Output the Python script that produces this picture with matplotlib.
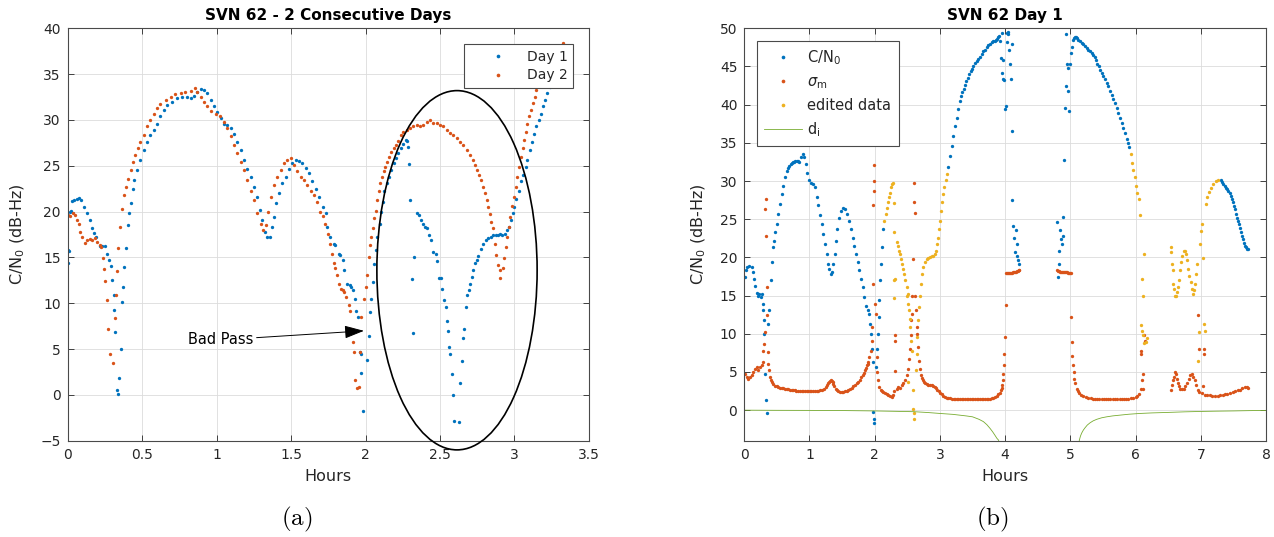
import numpy as np
import matplotlib
matplotlib.use('Agg')
import matplotlib.pyplot as plt
from matplotlib.patches import Ellipse

# ---- panel (a): SVN 62, two consecutive days ----
day1_hours = [0.000, 0.002, 0.010, 0.015, 0.025, 0.030, 0.045, 0.060, 0.075, 0.090, 0.108, 0.130, 0.148, 0.164, 0.175,
              0.190, 0.215, 0.230, 0.249, 0.265, 0.280, 0.293, 0.298, 0.309, 0.314, 0.320, 0.332, 0.338, 0.347, 0.356,
              0.363, 0.370, 0.379, 0.392, 0.406, 0.415, 0.426, 0.437, 0.448, 0.466, 0.489, 0.511, 0.534, 0.556, 0.578,
              0.601, 0.623, 0.646, 0.668, 0.702, 0.735, 0.769, 0.803, 0.825, 0.848, 0.870, 0.892, 0.915, 0.937, 0.960,
              0.982, 1.004, 1.027, 1.049, 1.072, 1.094, 1.117, 1.139, 1.161, 1.184, 1.206, 1.229, 1.251, 1.273, 1.289,
              1.307, 1.323, 1.341, 1.357, 1.370, 1.386, 1.401, 1.419, 1.442, 1.464, 1.486, 1.509, 1.531, 1.554, 1.576,
              1.598, 1.621, 1.643, 1.666, 1.688, 1.711, 1.733, 1.741, 1.763, 1.786, 1.797, 1.819, 1.830, 1.848, 1.857,
              1.875, 1.893, 1.904, 1.913, 1.931, 1.938, 1.949, 1.964, 1.969, 1.971, 1.980, 2.011, 2.020, 2.031, 2.038,
              2.047, 2.058, 2.067, 2.080, 2.094, 2.105, 2.114, 2.127, 2.143, 2.158, 2.172, 2.188, 2.203, 2.221, 2.237,
              2.254, 2.270, 2.281, 2.288, 2.295, 2.301, 2.313, 2.321, 2.328, 2.344, 2.359, 2.373, 2.388, 2.402, 2.415,
              2.426, 2.440, 2.455, 2.471, 2.480, 2.493, 2.504, 2.516, 2.527, 2.538, 2.545, 2.554, 2.563, 2.567, 2.580,
              2.589, 2.596, 2.627, 2.636, 2.647, 2.656, 2.663, 2.674, 2.683, 2.694, 2.701, 2.714, 2.723, 2.734, 2.746,
              2.757, 2.772, 2.790, 2.806, 2.824, 2.839, 2.857, 2.873, 2.891, 2.902, 2.917, 2.935, 2.951, 2.964, 2.975,
              2.987, 2.998, 3.013, 3.027, 3.042, 3.058, 3.074, 3.087, 3.103, 3.118, 3.132, 3.147, 3.163, 3.176, 3.192,
              3.208, 3.221, 3.237, 3.252, 3.270, 3.290]
day1_cn0 = [14.4, 15.8, 15.7, 20.0, 20.1, 21.2, 21.3, 21.4, 21.5, 21.3, 20.5, 19.8, 19.1, 18.2, 17.7,
            17.2, 16.2, 16.2, 16.3, 15.4, 14.7, 14.1, 12.5, 10.9, 9.3, 6.9, 0.5, 0.1, 1.8, 5.0,
            10.1, 11.8, 14.0, 16.0, 18.5, 19.9, 20.9, 22.5, 23.4, 24.5, 25.6, 26.7, 27.6, 28.4, 28.9,
            29.6, 30.4, 31.1, 31.6, 32.0, 32.4, 32.5, 32.55, 32.4, 32.6, 33.0, 33.35, 33.3, 32.9, 32.2,
            31.5, 30.9, 30.2, 29.6, 29.45, 29.1, 28.5, 27.6, 26.7, 25.6, 24.7, 23.8, 22.7, 21.6, 20.2,
            19.1, 17.8, 17.2, 17.2, 18.3, 19.4, 20.9, 22.0, 23.1, 23.8, 24.7, 25.3, 25.6, 25.55, 25.3,
            24.8, 24.2, 23.3, 22.5, 21.6, 20.5, 19.8, 18.3, 17.25, 16.5, 16.4, 15.4, 15.3, 14.7, 13.6,
            12.1, 12.0, 11.8, 11.4, 10.5, 9.2, 8.5, 4.7, 4.5, 2.4, -1.8, 3.8, 6.4, 9.0, 10.5,
            12.3, 14.3, 15.8, 17.2, 18.7, 20.0, 21.1, 22.2, 23.1, 23.8, 24.5, 25.3, 25.8, 26.4, 26.9,
            27.4, 27.8, 27.7, 27.1, 25.2, 21.3, 12.6, 6.8, 15.0, 19.9, 19.6, 19.1, 18.7, 18.3, 18.2,
            17.4, 16.9, 15.6, 15.4, 14.6, 12.8, 12.8, 11.6, 10.4, 9.6, 8.1, 7.0, 5.2, 4.5, 2.3,
            0.0, -2.8, -3.0, 1.3, 3.65, 6.2, 7.2, 9.6, 10.9, 11.4, 12.1, 12.9, 13.6, 14.4, 14.7,
            15.2, 15.9, 16.5, 16.9, 17.1, 17.25, 17.4, 17.4, 17.4, 17.6, 17.5, 17.6, 18.0, 18.3, 19.1,
            19.8, 20.5, 21.4, 22.2, 23.3, 24.0, 24.9, 25.6, 26.7, 27.6, 28.5, 29.3, 30.0, 30.7, 31.5,
            32.2, 32.9, 33.6, 34.4, 35.0, 35.7]

day2_hours = [0.000, 0.018, 0.036, 0.052, 0.063, 0.074, 0.085, 0.099, 0.114, 0.130, 0.148, 0.164, 0.182, 0.197, 0.215,
              0.224, 0.235, 0.247, 0.253, 0.262, 0.271, 0.283, 0.303, 0.316, 0.325, 0.332, 0.341, 0.354, 0.365, 0.377,
              0.392, 0.406, 0.422, 0.437, 0.455, 0.471, 0.489, 0.511, 0.534, 0.556, 0.578, 0.601, 0.623, 0.657, 0.691,
              0.724, 0.758, 0.791, 0.825, 0.854, 0.870, 0.892, 0.915, 0.937, 0.960, 0.993, 1.022, 1.049, 1.072, 1.094,
              1.117, 1.139, 1.161, 1.184, 1.206, 1.229, 1.251, 1.274, 1.296, 1.312, 1.330, 1.345, 1.368, 1.386, 1.408,
              1.430, 1.453, 1.475, 1.498, 1.520, 1.543, 1.565, 1.587, 1.610, 1.632, 1.655, 1.677, 1.696, 1.713, 1.730,
              1.746, 1.759, 1.775, 1.786, 1.797, 1.808, 1.819, 1.835, 1.846, 1.857, 1.871, 1.886, 1.897, 1.902, 1.913,
              1.920, 1.931, 1.942, 1.958, 1.964, 1.971, 1.987, 2.002, 2.009, 2.020, 2.031, 2.038, 2.047, 2.058, 2.067,
              2.076, 2.087, 2.098, 2.109, 2.121, 2.132, 2.143, 2.158, 2.172, 2.188, 2.203, 2.221, 2.237, 2.254, 2.277,
              2.299, 2.321, 2.344, 2.366, 2.388, 2.411, 2.433, 2.455, 2.478, 2.500, 2.522, 2.545, 2.567, 2.589, 2.612,
              2.634, 2.656, 2.679, 2.701, 2.719, 2.734, 2.750, 2.763, 2.775, 2.790, 2.801, 2.813, 2.824, 2.835, 2.842,
              2.853, 2.868, 2.879, 2.891, 2.902, 2.906, 2.920, 2.929, 2.940, 2.951, 2.962, 2.973, 2.984, 2.996, 3.007,
              3.018, 3.031, 3.042, 3.054, 3.065, 3.076, 3.087, 3.098, 3.109, 3.125, 3.136, 3.147, 3.163, 3.180, 3.200,
              3.220, 3.240, 3.260, 3.280, 3.300, 3.324]
day2_cn0 = [19.6, 19.5, 19.9, 19.6, 19.1, 18.6, 17.8, 17.2, 16.6, 16.9, 17.0, 16.9, 17.1, 16.7, 16.4,
            16.1, 14.9, 13.7, 12.4, 10.4, 7.2, 4.5, 3.5, 8.4, 10.9, 13.5, 16.0, 18.3, 20.3, 21.8,
            22.7, 23.6, 24.5, 25.4, 26.2, 26.9, 27.6, 28.4, 29.3, 30.0, 30.7, 31.3, 31.7, 32.2, 32.55,
            32.85, 32.9, 33.0, 33.2, 33.5, 33.1, 32.55, 32.0, 31.5, 31.0, 30.7, 30.4, 29.8, 29.1, 28.2,
            27.3, 26.4, 25.4, 24.5, 23.4, 22.3, 21.25, 19.8, 18.7, 18.0, 18.5, 20.0, 21.6, 22.9, 23.8,
            24.5, 25.3, 25.6, 25.9, 25.1, 24.4, 23.8, 23.4, 22.9, 22.3, 21.8, 21.1, 20.0, 19.5, 18.7,
            17.6, 16.5, 15.4, 14.4, 13.8, 13.1, 12.1, 11.6, 11.4, 11.2, 10.7, 9.8, 9.2, 7.2, 5.8,
            4.7, 1.6, 0.8, 0.9, 4.7, 8.5, 10.5, 11.8, 13.1, 15.1, 16.4, 17.25, 18.2, 19.25, 20.1,
            21.25, 22.2, 23.1, 23.8, 24.4, 24.9, 25.4, 26.0, 26.5, 26.9, 27.3, 27.7, 28.4, 28.65, 28.9,
            29.1, 29.35, 29.45, 29.3, 29.45, 29.8, 30.0, 29.7, 29.7, 29.45, 29.3, 28.9, 28.6, 28.35, 28.0,
            27.6, 27.3, 26.7, 26.2, 25.6, 25.1, 24.5, 24.0, 23.4, 22.7, 22.0, 21.25, 20.5, 19.7, 18.9,
            18.2, 16.5, 15.25, 14.15, 13.6, 12.8, 13.8, 14.9, 16.1, 17.25, 18.3, 19.4, 20.6, 21.6, 22.7,
            23.8, 24.9, 26.0, 26.9, 27.8, 28.7, 29.6, 30.4, 31.1, 31.8, 32.55, 33.3, 34.0, 34.7, 35.5,
            36.2, 36.8, 37.3, 37.7, 38.0, 38.4]

# circled region and "Bad Pass" note
bad_pass_center = (2.614, 13.6)
bad_pass_size = (1.076, 39.2)
bad_pass_tip = (1.989, 6.99)
bad_pass_text = (1.25, 6.0)

# ---- panel (b): SVN 62 day 1 ----
cn0_hours = [0.011, 0.021, 0.047, 0.077, 0.113, 0.128, 0.149, 0.164, 0.190, 0.215, 0.230, 0.251, 0.266, 0.282, 0.292,
             0.302, 0.307, 0.323, 0.338, 0.343, 0.369, 0.384, 0.404, 0.420, 0.435, 0.450, 0.471, 0.496, 0.522, 0.548,
             0.573, 0.599, 0.624, 0.650, 0.670, 0.691, 0.710, 0.727, 0.745, 0.762, 0.783, 0.803, 0.825, 0.844, 0.870,
             0.895, 0.916, 0.941, 0.967, 0.992, 1.023, 1.059, 1.084, 1.110, 1.135, 1.161, 1.187, 1.212, 1.238, 1.263,
             1.279, 1.304, 1.330, 1.350, 1.365, 1.386, 1.406, 1.427, 1.452, 1.483, 1.519, 1.550, 1.580, 1.611, 1.637,
             1.662, 1.688, 1.713, 1.739, 1.764, 1.790, 1.815, 1.841, 1.867, 1.892, 1.912, 1.928, 1.943, 1.958, 1.969,
             1.979, 1.989, 1.994, 2.015, 2.030, 2.045, 2.061, 2.071, 2.086, 2.102, 2.117, 2.132,
             3.130, 3.155, 3.181, 3.206, 3.232, 3.257, 3.283, 3.308, 3.326, 3.344, 3.365, 3.385, 3.405, 3.426, 3.450,
             3.472, 3.492, 3.513, 3.540, 3.564, 3.590, 3.615, 3.640, 3.667, 3.690, 3.717, 3.745, 3.769, 3.795, 3.820,
             3.840, 3.861, 3.880, 3.897, 3.912, 3.922, 3.932, 3.947, 3.948, 3.963, 3.973, 3.983, 3.999, 4.009, 4.024,
             4.035, 4.039, 4.050, 4.065, 4.075, 4.085, 4.101, 4.106, 4.111, 4.126, 4.137, 4.152, 4.167, 4.177, 4.187,
             4.203, 4.213,
             4.801, 4.816, 4.826, 4.831, 4.842, 4.857, 4.867, 4.882, 4.893, 4.903, 4.918, 4.928, 4.934, 4.944, 4.959,
             4.970, 4.980, 4.995, 5.006, 5.021, 5.036, 5.057, 5.072, 5.088, 5.105, 5.123, 5.150, 5.174, 5.200, 5.226,
             5.250, 5.277, 5.300, 5.328, 5.355, 5.379, 5.398, 5.415, 5.435, 5.456, 5.480, 5.507, 5.530, 5.558, 5.585,
             5.610, 5.635, 5.661, 5.686, 5.711, 5.737, 5.763, 5.790, 5.814, 5.840, 5.865, 5.886, 5.906,
             7.306, 7.327, 7.347, 7.368, 7.388, 7.406, 7.424, 7.442, 7.460, 7.475, 7.490, 7.508, 7.526, 7.544, 7.562,
             7.578, 7.593, 7.608, 7.623, 7.639, 7.654, 7.670, 7.685, 7.700, 7.716, 7.731]
cn0_values = [17.4, 18.3, 18.7, 18.9, 18.7, 18.1, 17.2, 16.3, 15.4, 15.0, 15.2, 14.8, 15.2, 13.9, 13.05,
              11.75, 10.0, 4.8, 1.3, -0.4, 11.3, 13.05, 17.0, 19.4, 21.3, 22.2, 23.3, 24.4, 25.7, 27.0,
              28.3, 29.4, 30.5, 31.3, 31.7, 32.0, 32.2, 32.3, 32.45, 32.55, 32.6, 32.6, 32.6, 32.55, 33.1,
              33.5, 33.1, 32.2, 31.1, 30.2, 29.8, 29.6, 29.2, 27.85, 26.8, 25.5, 24.4, 23.1, 21.8, 20.45,
              19.15, 18.5, 17.85, 18.1, 19.15, 20.45, 22.2, 23.7, 25.2, 26.1, 26.5, 26.3, 25.7, 24.8, 23.7,
              22.6, 21.5, 20.45, 19.4, 18.3, 17.2, 16.1, 14.8, 13.7, 13.05, 12.6, 11.3, 10.0, 8.05, 6.3,
              -0.2, -1.1, -1.7, 5.65, 8.05, 10.0, 12.2, 14.4, 17.0, 19.15, 21.3, 23.7,
              31.8, 33.3, 34.6, 35.9, 37.2, 38.3, 39.4, 40.5, 41.1, 41.6, 42.1, 42.6, 43.1, 43.5, 44.0,
              44.4, 44.7, 45.0, 45.4, 45.7, 46.0, 46.3, 46.7, 47.0, 47.2, 47.5, 47.8, 48.0, 48.15, 48.3,
              48.4, 48.5, 48.65, 48.8, 49.0, 48.3, 46.1, 44.2, 49.4, 45.9, 43.3, 43.2, 39.4, 39.8, 49.4,
              48.2, 49.2, 49.5, 47.1, 45.3, 43.4, 48.0, 36.6, 27.5, 24.15, 22.5, 20.7, 23.6, 21.8, 20.2,
              19.6, 19.15,
              24.6, 17.5, 20.9, 19.15, 23.6, 22.4, 21.7, 22.8, 25.3, 32.7, 39.5, 49.3, 42.4, 45.3, 44.8,
              41.8, 39.2, 45.3, 46.8, 47.6, 48.5, 48.7, 48.8, 48.8, 48.7, 48.5, 48.3, 48.1, 47.9, 47.65,
              47.4, 47.2, 47.0, 46.8, 46.55, 46.3, 45.8, 45.3, 45.0, 44.6, 44.2, 43.7, 43.3, 42.9, 42.4,
              41.8, 41.3, 40.7, 40.2, 39.6, 38.95, 38.3, 37.6, 37.0, 36.3, 35.5, 35.0, 34.5,
              30.1, 29.85, 29.6, 29.4, 29.15, 28.9, 28.7, 28.4, 28.1, 27.65, 27.2, 26.75, 26.3, 25.75, 25.2,
              24.8, 24.4, 23.85, 23.3, 22.85, 22.4, 21.95, 21.5, 21.3, 21.1, 21.1]

sigma_hours = [0.011, 0.036, 0.062, 0.087, 0.113, 0.139, 0.164, 0.190, 0.215, 0.241, 0.266, 0.282, 0.292, 0.302, 0.312,
               0.323, 0.328, 0.333, 0.343, 0.348, 0.359, 0.369, 0.379, 0.394, 0.407, 0.420, 0.445, 0.470, 0.496, 0.522,
               0.548, 0.575, 0.600, 0.624, 0.650, 0.675, 0.701, 0.725, 0.750, 0.778, 0.800, 0.825, 0.854, 0.880, 0.905,
               0.931, 0.955, 0.980, 1.008, 1.030, 1.055, 1.084, 1.110, 1.135, 1.161, 1.190, 1.223, 1.250, 1.273, 1.290,
               1.304, 1.318, 1.330, 1.343, 1.355, 1.368, 1.381, 1.400, 1.417, 1.440, 1.468, 1.495, 1.519, 1.545, 1.570,
               1.595, 1.621, 1.645, 1.672, 1.698, 1.723, 1.750, 1.774, 1.795, 1.815, 1.835, 1.851, 1.865, 1.877, 1.890,
               1.902, 1.917, 1.938, 1.953, 1.958, 1.969, 1.979, 1.984, 1.989, 1.994, 2.004, 2.015, 2.030, 2.040, 2.051,
               2.071, 2.090, 2.107, 2.130, 2.158, 2.185, 2.209, 2.235, 2.260, 2.286, 2.301, 2.311, 2.311, 2.316, 2.337,
               2.362, 2.388, 2.414, 2.439, 2.465, 2.491, 2.506, 2.526, 2.541, 2.552, 2.562, 2.572, 2.577, 2.582, 2.597,
               2.608, 2.613, 2.618, 2.628, 2.643, 2.654, 2.669, 2.684, 2.695, 2.710, 2.723, 2.736, 2.755, 2.771, 2.795,
               2.822, 2.848, 2.873, 2.900, 2.925, 2.945, 2.961, 2.980, 3.001, 3.027, 3.053, 3.078, 3.104, 3.130, 3.155,
               3.181, 3.210, 3.235, 3.257, 3.285, 3.310, 3.335, 3.359, 3.385, 3.410, 3.435, 3.462, 3.490, 3.515, 3.540,
               3.564, 3.590, 3.615, 3.640, 3.667, 3.690, 3.715, 3.740, 3.769, 3.795, 3.820, 3.845, 3.870, 3.897, 3.915,
               3.932, 3.946, 3.958, 3.966, 3.973, 3.983, 3.988, 3.999, 4.009, 4.014, 4.030, 4.045, 4.060, 4.075, 4.090,
               4.105, 4.120, 4.135, 4.150, 4.165, 4.180, 4.195, 4.210, 4.218,
               4.801, 4.815, 4.830, 4.845, 4.860, 4.875, 4.890, 4.905, 4.920, 4.935, 4.950, 4.965, 4.980, 4.995, 5.006,
               5.006, 5.021, 5.031, 5.042, 5.052, 5.062, 5.077, 5.098, 5.118, 5.139, 5.170, 5.200, 5.240, 5.277, 5.310,
               5.345, 5.379, 5.410, 5.445, 5.481, 5.515, 5.550, 5.583, 5.615, 5.650, 5.685, 5.720, 5.755, 5.788, 5.820,
               5.855, 5.890, 5.930, 5.967, 6.000, 6.028, 6.059, 6.079, 6.094, 6.109, 6.079, 6.084, 6.135, 6.145, 6.120,
               6.539, 6.554, 6.570, 6.585, 6.600, 6.616, 6.631, 6.647, 6.667, 6.688, 6.713, 6.739, 6.764, 6.790, 6.815,
               6.841, 6.866, 6.887, 6.907, 6.928, 6.953, 6.958, 6.968, 6.979, 7.014, 7.040, 7.050, 7.055, 7.065, 7.100,
               7.142, 7.180, 7.219, 7.260, 7.295, 7.335, 7.372, 7.410, 7.449, 7.490, 7.526, 7.565, 7.602, 7.640, 7.679,
               7.710, 7.730]
sigma_values = [4.8, 4.35, 4.1, 4.3, 4.6, 5.0, 5.4, 5.6, 5.3, 5.65, 5.9, 6.3, 7.8, 8.7, 10.2,
                26.3, 27.7, 22.8, 16.1, 12.4, 7.6, 6.1, 5.2, 4.35, 4.0, 3.7, 3.4, 3.2, 3.1, 3.0,
                2.95, 2.9, 2.85, 2.8, 2.75, 2.72, 2.7, 2.65, 2.62, 2.6, 2.57, 2.54, 2.5, 2.5, 2.5,
                2.5, 2.5, 2.5, 2.5, 2.5, 2.5, 2.5, 2.52, 2.55, 2.6, 2.68, 2.8, 3.0, 3.3, 3.5,
                3.7, 3.85, 4.0, 3.85, 3.7, 3.4, 3.1, 2.8, 2.6, 2.5, 2.4, 2.38, 2.4, 2.45, 2.5,
                2.62, 2.8, 2.95, 3.1, 3.3, 3.5, 3.75, 4.0, 4.3, 4.6, 4.9, 5.2, 5.5, 5.9, 6.1,
                6.3, 7.0, 7.8, 9.1, 10.9, 16.5, 26.8, 32.1, 28.7, 30.0, 13.9, 12.6, 7.0, 5.0, 3.9,
                3.05, 2.7, 2.5, 2.4, 2.3, 2.15, 2.0, 1.85, 1.75, 1.95, 2.5, 5.1, 9.1, 9.8, 2.8,
                3.05, 2.9, 3.3, 3.5, 3.9, 4.6, 5.4, 6.75, 8.05, 9.8, 11.75, 12.6, 15.0, 19.8, 29.7,
                27.2, 25.8, 15.0, 13.05, 10.9, 10.0, 8.3, 6.5, 5.4, 4.6, 4.2, 3.9, 3.65, 3.5, 3.4,
                3.3, 3.3, 3.3, 3.2, 3.05, 2.9, 2.7, 2.5, 2.3, 2.1, 1.9, 1.75, 1.65, 1.58, 1.53,
                1.5, 1.48, 1.46, 1.45, 1.45, 1.45, 1.45, 1.45, 1.45, 1.45, 1.45, 1.45, 1.45, 1.45, 1.45,
                1.45, 1.45, 1.45, 1.45, 1.45, 1.46, 1.47, 1.48, 1.5, 1.55, 1.63, 1.75, 1.9, 2.1, 2.3,
                2.6, 2.9, 3.3, 3.9, 4.8, 5.9, 7.3, 9.6, 13.8, 18.0, 18.0, 18.0, 18.0, 18.0, 18.0,
                18.0, 18.05, 18.05, 18.1, 18.15, 18.2, 18.25, 18.3, 18.3,
                18.3, 18.25, 18.2, 18.1, 18.05, 18.05, 18.05, 18.05, 18.05, 18.05, 18.05, 18.0, 18.0, 18.0, 18.0,
                12.2, 8.9, 7.05, 5.9, 5.0, 4.1, 3.5, 2.8, 2.45, 2.2, 1.98, 1.8, 1.7, 1.6, 1.55,
                1.52, 1.5, 1.48, 1.46, 1.45, 1.45, 1.45, 1.45, 1.45, 1.45, 1.45, 1.45, 1.45, 1.45, 1.46,
                1.48, 1.5, 1.55, 1.6, 1.7, 1.8, 2.1, 2.8, 3.9, 4.8, 7.4, 7.8, 9.8, 9.1, 2.8,
                2.7, 3.3, 3.9, 4.4, 5.0, 4.7, 4.1, 3.6, 3.1, 2.8, 2.8, 2.8, 3.1, 3.6, 4.1,
                4.6, 4.8, 4.4, 3.9, 3.3, 2.7, 12.4, 8.05, 2.4, 2.2, 3.1, 7.4, 8.05, 2.05, 2.0,
                1.95, 1.92, 1.9, 1.92, 1.95, 2.02, 2.1, 2.17, 2.25, 2.37, 2.5, 2.6, 2.7, 2.85, 3.05,
                3.0, 2.9]

edited_hours = [2.148, 2.168, 2.183, 2.199, 2.219, 2.235, 2.250, 2.265, 2.281, 2.296, 2.296, 2.301, 2.301, 2.311, 2.337,
                2.352, 2.373, 2.388, 2.409, 2.424, 2.439, 2.455, 2.470, 2.491, 2.501, 2.511, 2.516, 2.526, 2.536, 2.547,
                2.557, 2.567, 2.516, 2.582, 2.592, 2.597, 2.608, 2.628, 2.643, 2.654, 2.669, 2.684, 2.695, 2.710, 2.725,
                2.746, 2.771, 2.797, 2.822, 2.848, 2.873, 2.899, 2.925, 2.940, 2.955, 2.971, 2.986, 3.001, 3.022, 3.037,
                3.053, 3.068, 3.088, 3.104,
                5.926, 5.946, 5.967, 5.987, 6.008, 6.028, 6.048, 6.069, 6.125, 6.100, 6.121, 6.079, 6.094, 6.109, 6.130,
                6.161, 6.171,
                6.539, 6.544, 6.565, 6.570, 6.580, 6.590, 6.606, 6.621, 6.631, 6.647, 6.662, 6.682, 6.698, 6.718, 6.739,
                6.759, 6.774, 6.795, 6.810, 6.825, 6.846, 6.861, 6.876, 6.892, 6.907, 6.922, 6.938, 6.958, 6.968, 6.989,
                6.999, 7.014, 7.040, 7.055, 7.070, 7.086, 7.101, 7.126, 7.157, 7.193, 7.234, 7.270]
edited_values = [24.8, 25.7, 26.5, 27.2, 27.85, 28.5, 29.2, 29.6, 29.8, 27.1, 23.3, 17.0, 14.7, 17.2, 22.0,
                 21.5, 20.9, 20.45, 19.8, 19.15, 18.5, 17.85, 17.0, 16.1, 15.0, 13.9, 15.2, 13.05, 11.95, 10.9,
                 9.1, 7.8, 3.7, 2.6, 0.2, -0.4, -1.1, 5.2, 7.4, 9.6, 11.75, 13.5, 15.0, 16.5, 17.85,
                 18.7, 19.4, 19.8, 19.9, 20.0, 20.2, 20.2, 20.45, 20.9, 21.8, 22.6, 23.7, 24.8, 26.1, 27.2,
                 28.3, 29.2, 30.2, 30.9,
                 33.5, 32.4, 31.4, 30.5, 29.4, 28.5, 27.6, 25.6, 20.4, 17.2, 15.0, 11.1, 10.4, 9.8, 8.8,
                 8.9, 9.4,
                 21.3, 20.7, 19.15, 18.3, 16.5, 15.9, 15.0, 14.9, 15.45, 16.1, 17.05, 18.3, 19.4, 20.2, 20.8,
                 20.8, 20.45, 19.6, 18.5, 17.6, 16.75, 15.9, 15.2, 15.7, 16.5, 17.85, 19.15, 6.5, 10.2, 21.8,
                 23.5, 24.4, 19.9, 11.3, 10.4, 27.0, 27.85, 28.6, 29.15, 29.6, 30.0, 30.2]

di_hours_a = [0.0, 0.5, 1.0, 1.5, 2.0, 2.3, 2.6, 2.8, 3.0, 3.2, 3.4, 3.5, 3.6, 3.667, 3.72, 3.77, 3.81, 3.845, 3.875,
              3.897, 3.91]
di_values_a = [0.0, -0.02, -0.03, -0.05, -0.1, -0.15, -0.2, -0.3, -0.43, -0.55, -0.75, -0.87, -1.2, -1.5, -1.9, -2.4,
               -2.85, -3.3, -3.7, -3.9, -4.2]
di_hours_b = [5.13, 5.139, 5.155, 5.174, 5.2, 5.226, 5.26, 5.303, 5.35, 5.404, 5.48, 5.558, 5.65, 5.763, 5.9, 6.069,
              6.25, 6.478, 6.75, 6.989, 7.25, 7.5, 7.75, 8.0]
di_values_b = [-4.3, -3.9, -3.4, -3.0, -2.6, -2.3, -1.95, -1.65, -1.4, -1.2, -1.0, -0.87, -0.75, -0.65, -0.53, -0.43,
               -0.36, -0.3, -0.22, -0.17, -0.13, -0.1, -0.06, -0.03]

blue = '#0072BD'
orange = '#D95319'
yellow = '#EDB120'
green = '#77AC30'
axis_gray = '#262626'

plt.rcParams['font.family'] = 'DejaVu Sans'

fig = plt.figure(figsize=(12.74, 5.37), dpi=100)
ax1 = fig.add_axes([0.0531, 0.1793, 0.4092, 0.7680])
ax2 = fig.add_axes([0.5842, 0.1793, 0.4095, 0.7680])


def style_axes(ax):
    ax.grid(True, color='#dcdcdc', linewidth=0.6)
    ax.set_axisbelow(True)
    for side in ax.spines.values():
        side.set_color('#4a4a4a')
        side.set_linewidth(0.8)
    ax.tick_params(direction='in', top=True, right=True, length=4, width=0.6,
                   colors=axis_gray, labelsize=10, pad=5)
    for lbl in ax.get_xticklabels() + ax.get_yticklabels():
        lbl.set_color(axis_gray)


dot = dict(linestyle='none', marker='o', markersize=2.4, markeredgewidth=0)

# panel (a)
ax1.plot(day1_hours, day1_cn0, color=blue, label='Day 1', **dot)
ax1.plot(day2_hours, day2_cn0, color=orange, label='Day 2', **dot)
ax1.add_patch(Ellipse(bad_pass_center, bad_pass_size[0], bad_pass_size[1], fill=False,
                      edgecolor='k', linewidth=1.2, clip_on=False, zorder=5))
ax1.annotate('Bad Pass', xy=bad_pass_tip, xytext=bad_pass_text, ha='right', va='center', fontsize=10.5,
             arrowprops=dict(arrowstyle='-|>,head_length=0.6,head_width=0.2', color='k', lw=0.7,
                             mutation_scale=20, shrinkA=0, shrinkB=0))
ax1.set_xlim(0, 3.5)
ax1.set_ylim(-5, 40)
ax1.set_xticks(np.arange(0, 3.51, 0.5))
ax1.set_xticklabels(['0', '0.5', '1', '1.5', '2', '2.5', '3', '3.5'])
ax1.set_yticks(np.arange(-5, 41, 5))
style_axes(ax1)
ax1.set_title('SVN 62 - 2 Consecutive Days', fontsize=11, fontweight='bold', pad=6)
ax1.set_xlabel('Hours', fontsize=11.5, color=axis_gray)
ax1.set_ylabel('C/N$_0$ (dB-Hz)', fontsize=11.5, color=axis_gray)
ax1.xaxis.set_label_coords(0.5, -0.068)
ax1.yaxis.set_label_coords(-0.078, 0.5)
leg1 = ax1.legend(loc='upper right', bbox_to_anchor=(0.9693, 0.962), borderaxespad=0, fontsize=10,
                  numpoints=1, handlelength=4.1, handletextpad=0.0, borderpad=0.4, labelspacing=0.35,
                  fancybox=False, framealpha=1, edgecolor='#4a4a4a', markerscale=1.1)
leg1.get_frame().set_linewidth(0.8)
for t in leg1.get_texts():
    t.set_color(axis_gray)

# panel (b)
ax2.plot(cn0_hours, cn0_values, color=blue, label='C/N$_0$', **dot)
ax2.plot(sigma_hours, sigma_values, color=orange, label=r'$\sigma_{\mathrm{m}}$', **dot)
ax2.plot(edited_hours, edited_values, color=yellow, label='edited data', **dot)
ax2.plot(di_hours_a, di_values_a, color=green, linewidth=0.6, label='d$_\\mathrm{i}$')
ax2.plot(di_hours_b, di_values_b, color=green, linewidth=0.6)
ax2.set_xlim(0, 8)
ax2.set_ylim(-4, 50)
ax2.set_xticks(np.arange(0, 9, 1))
ax2.set_yticks(np.arange(0, 51, 5))
style_axes(ax2)
ax2.set_title('SVN 62 Day 1', fontsize=11, fontweight='bold', pad=6)
ax2.set_xlabel('Hours', fontsize=11.5, color=axis_gray)
ax2.set_ylabel('C/N$_0$ (dB-Hz)', fontsize=11.5, color=axis_gray)
ax2.xaxis.set_label_coords(0.5, -0.068)
ax2.yaxis.set_label_coords(-0.0696, 0.5)
leg2 = ax2.legend(loc='upper left', bbox_to_anchor=(0.0243, 0.970), borderaxespad=0, fontsize=10.5,
                  numpoints=1, handlelength=2.6, handletextpad=0.35, borderpad=0.5, labelspacing=0.5,
                  fancybox=False, framealpha=1, edgecolor='#4a4a4a', markerscale=1.1)
leg2.get_frame().set_linewidth(0.8)
for t in leg2.get_texts():
    t.set_color(axis_gray)

fig.text(0.233, 0.032, r'$\mathrm{(a)}$', math_fontfamily='cm', fontsize=18, ha='center', va='center')
fig.text(0.779, 0.032, r'$\mathrm{(b)}$', math_fontfamily='cm', fontsize=18, ha='center', va='center')

fig.savefig('out.png', dpi=100)
